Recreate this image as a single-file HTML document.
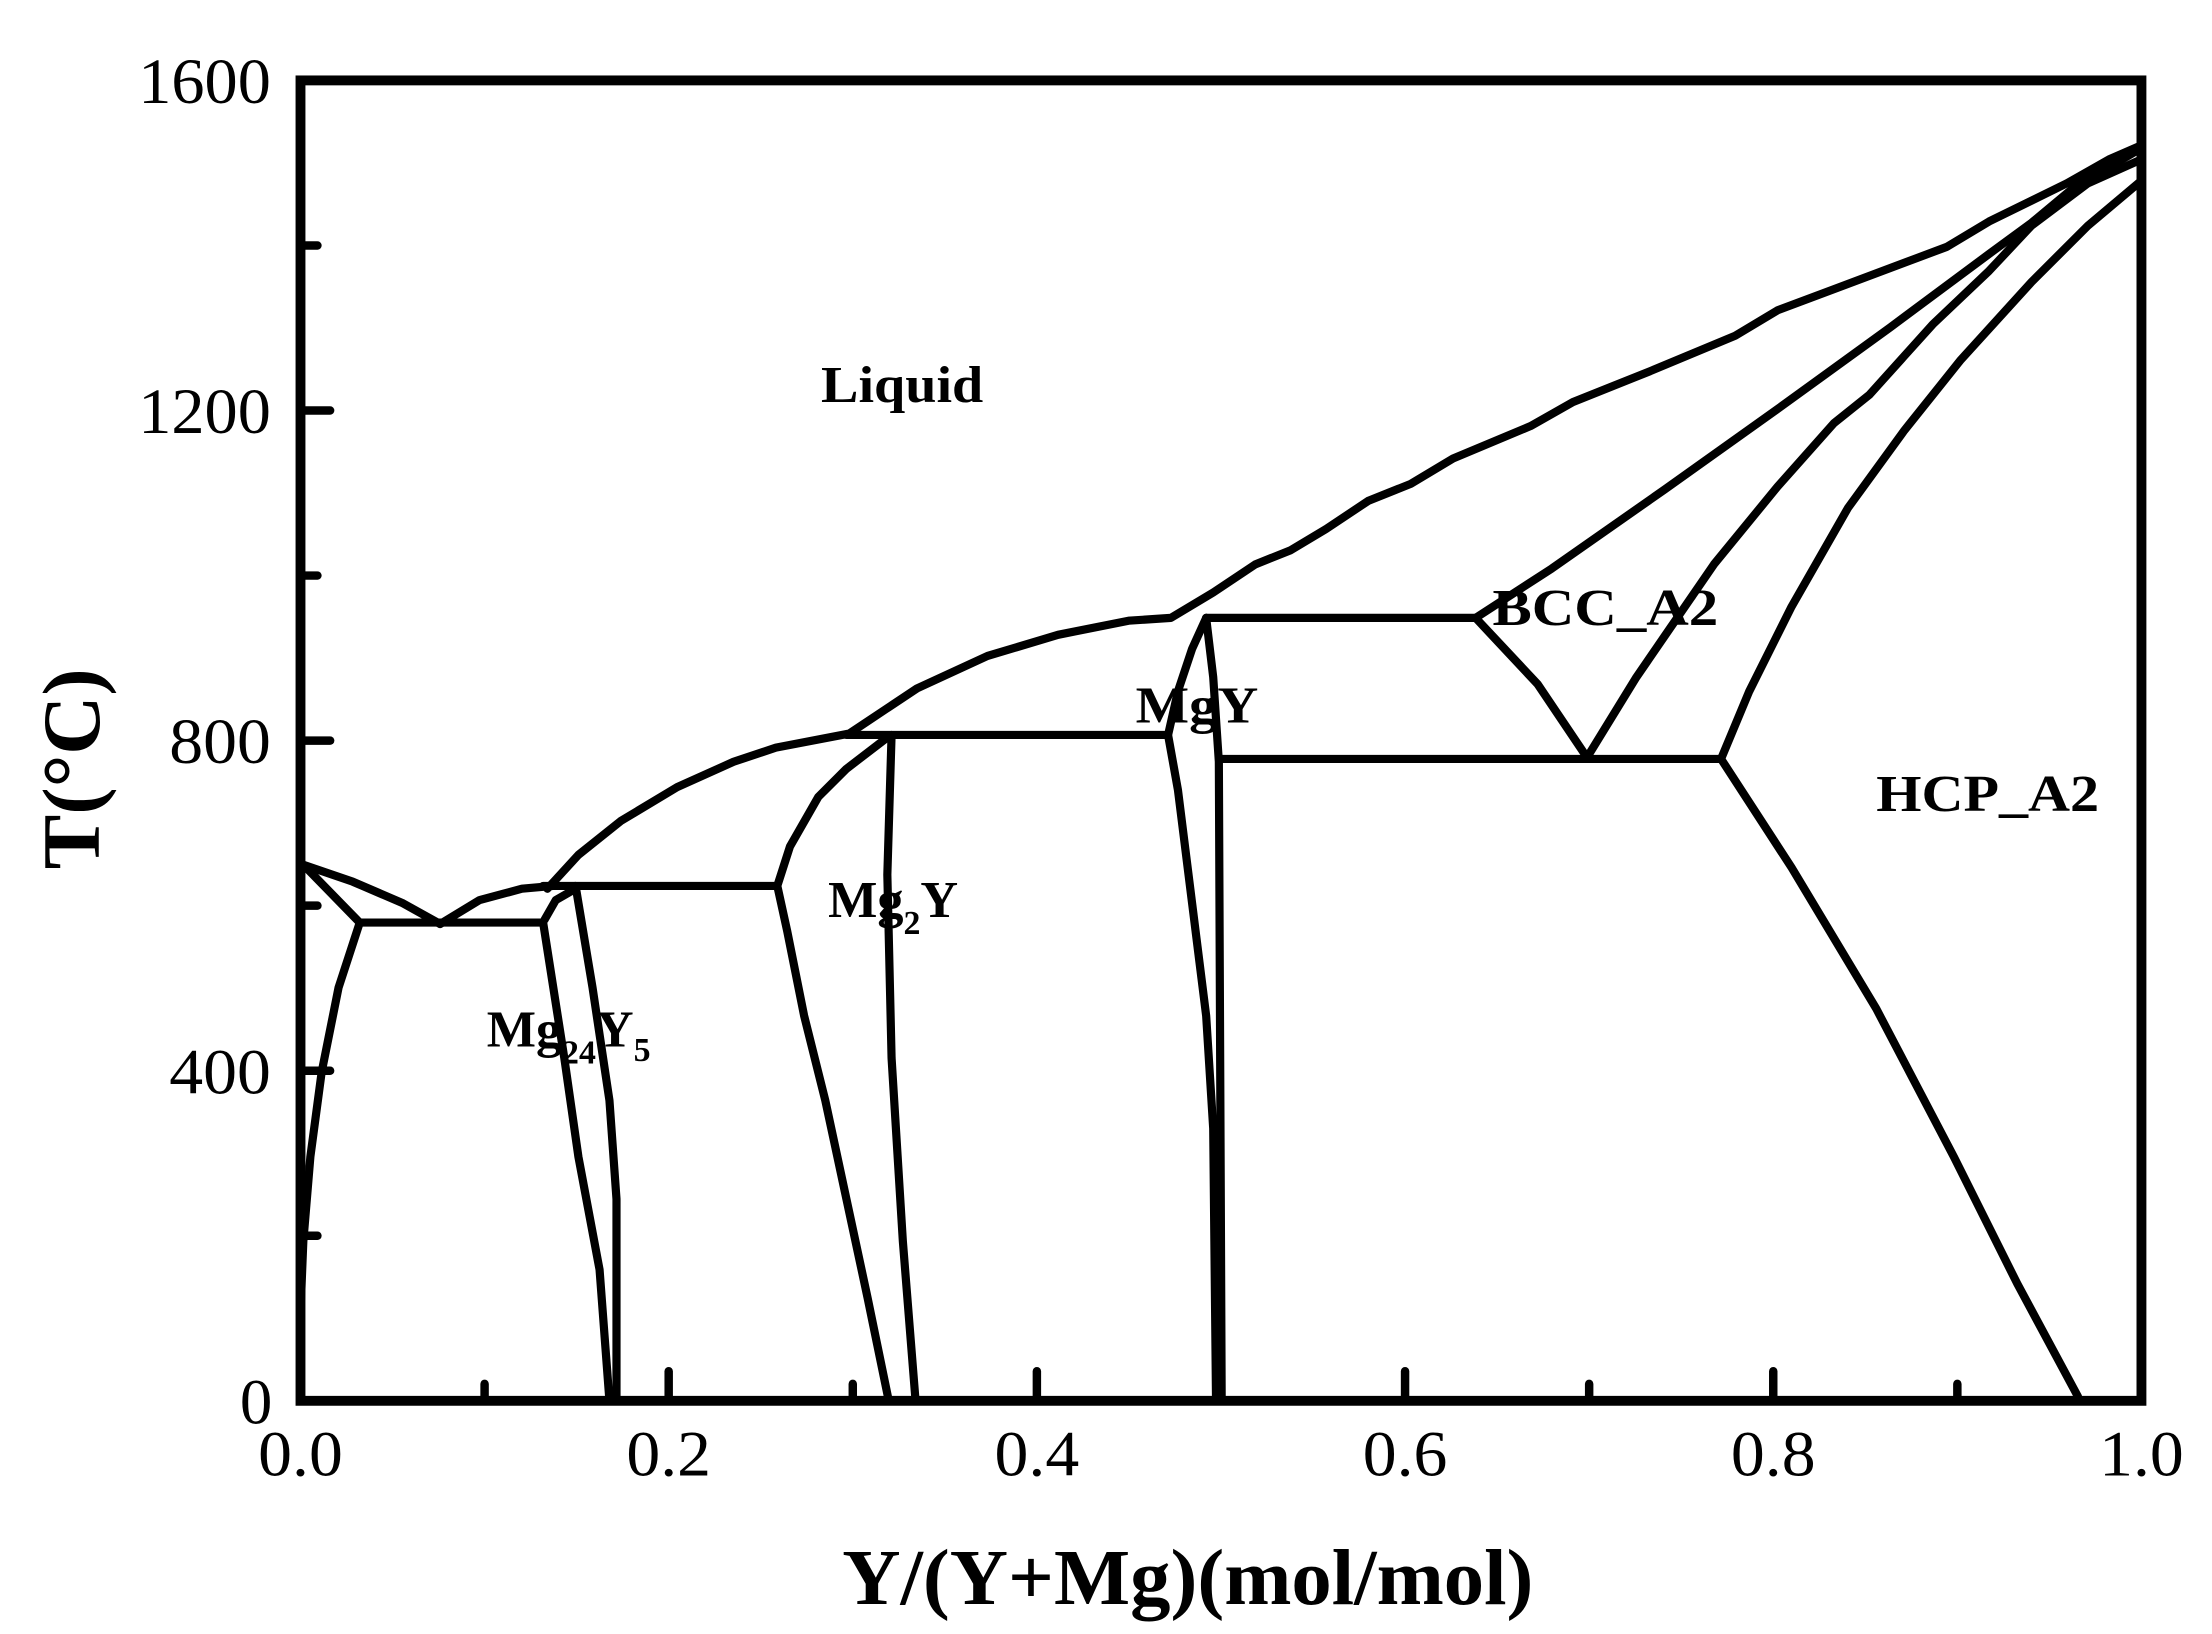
<!DOCTYPE html>
<html><head><meta charset="utf-8"><style>html,body{margin:0;padding:0;background:#fff}svg{display:block}</style></head>
<body>
<svg width="2212" height="1634" viewBox="0 0 1568 1158.3" xmlns="http://www.w3.org/2000/svg" font-family="'Liberation Serif',serif">
<rect width="1568" height="1158.3" fill="#fff"/>
<g fill="none" stroke="#000" stroke-width="5.8" stroke-linejoin="round" stroke-linecap="round">
<polyline points="215,613 250,625 285,640 312,655"/>
<polyline points="215,613 255,654 240,700 228,760 220,820 215,880 213,930"/>
<polyline points="255,654 385,654"/>
<polyline points="312,655 340,638 370,630 392,628"/>
<polyline points="385,628 550,628"/>
<polyline points="385,654 400,750 410,820 425,900 432,993"/>
<polyline points="408,628 420,700 432,780 437,850 437,993"/>
<polyline points="408,630 394,638 386,652"/>
<polyline points="388,630 410,606 440,582 480,558 520,540 550,530 602,520 650,488 700,465 750,450 800,440 830,438 860,420 890,400 915,390 940,375 970,355 1000,343 1030,325 1085,302 1115,285 1170,263 1230,238 1260,220 1300,205 1380,175 1410,157 1465,130 1495,113 1518,103"/>
<polyline points="600,521 828,521"/>
<polyline points="551,628 560,600 580,565 600,545 630,522"/>
<polyline points="551,628 558,660 570,720 585,780 600,850 615,920 630,993"/>
<polyline points="632,521 629,620 632,750 640,880 649,993"/>
<polyline points="855,438 845,460 835,490 828,521 835,560 845,640 855,720 860,800 862,993"/>
<polyline points="855,438 860,480 864,540 866,993"/>
<polyline points="855,438 1046,438"/>
<polyline points="866,538 1220,538"/>
<polyline points="1046,438 1090,485 1125,537"/>
<polyline points="1046,438 1100,403 1180,347 1260,290 1340,232 1410,180 1440,158 1470,133 1518,105"/>
<polyline points="1125,537 1160,480 1215,400 1260,345 1300,300 1325,280 1370,230 1410,192 1440,160 1480,130 1518,113"/>
<polyline points="1220,538 1240,490 1270,430 1310,360 1350,305 1390,255 1440,200 1480,160 1518,128"/>
<polyline points="1220,538 1270,615 1330,715 1385,820 1430,910 1473,990"/>
</g>
<rect x="213" y="57" width="1305" height="936" fill="none" stroke="#000" stroke-width="7"/>
<g stroke="#000" stroke-width="6" stroke-linecap="round">
<line x1="343.5" y1="993" x2="343.5" y2="981"/><line x1="474" y1="993" x2="474" y2="972"/>
<line x1="604.5" y1="993" x2="604.5" y2="981"/><line x1="735" y1="993" x2="735" y2="972"/>
<line x1="865.5" y1="993" x2="865.5" y2="981"/><line x1="996" y1="993" x2="996" y2="972"/>
<line x1="1126.5" y1="993" x2="1126.5" y2="981"/><line x1="1257" y1="993" x2="1257" y2="972"/>
<line x1="1387.5" y1="993" x2="1387.5" y2="981"/>
<line x1="213" y1="876" x2="225" y2="876"/><line x1="213" y1="759" x2="234" y2="759"/>
<line x1="213" y1="642" x2="225" y2="642"/><line x1="213" y1="525" x2="234" y2="525"/>
<line x1="213" y1="408" x2="225" y2="408"/><line x1="213" y1="291" x2="234" y2="291"/>
<line x1="213" y1="174" x2="225" y2="174"/>
</g>
<g font-size="46" fill="#000" lengthAdjust="spacingAndGlyphs">
<text x="193" y="1009" text-anchor="end">0</text>
<text x="120" y="775" textLength="72" lengthAdjust="spacingAndGlyphs">400</text>
<text x="120" y="541" textLength="72" lengthAdjust="spacingAndGlyphs">800</text>
<text x="98" y="307" textLength="94" lengthAdjust="spacingAndGlyphs">1200</text>
<text x="98" y="73" textLength="94" lengthAdjust="spacingAndGlyphs">1600</text>
<text x="183" y="1046" textLength="60" lengthAdjust="spacingAndGlyphs">0.0</text>
<text x="444" y="1046" textLength="60" lengthAdjust="spacingAndGlyphs">0.2</text>
<text x="705" y="1046" textLength="60" lengthAdjust="spacingAndGlyphs">0.4</text>
<text x="966" y="1046" textLength="60" lengthAdjust="spacingAndGlyphs">0.6</text>
<text x="1227" y="1046" textLength="60" lengthAdjust="spacingAndGlyphs">0.8</text>
<text x="1488" y="1046" textLength="60" lengthAdjust="spacingAndGlyphs">1.0</text>
</g>
<text x="597" y="1137" font-size="56" font-weight="bold" textLength="490" lengthAdjust="spacingAndGlyphs">Y/(Y+Mg)(mol/mol)</text>
<text transform="translate(70,545) rotate(-90)" font-size="58" font-weight="bold" text-anchor="middle">T(°C)</text>
<g font-size="37" font-weight="bold">
<text x="582" y="285" textLength="115" lengthAdjust="spacingAndGlyphs">Liquid</text>
<text x="1058" y="443" textLength="160" lengthAdjust="spacingAndGlyphs">BCC_A2</text>
<text x="805" y="512" textLength="87" lengthAdjust="spacingAndGlyphs">MgY</text>
<text x="1330" y="575" textLength="158" lengthAdjust="spacingAndGlyphs">HCP_A2</text>
<text x="587" y="650">Mg<tspan font-size="24" dy="12">2</tspan><tspan dy="-12">Y</tspan></text>
<text x="345" y="742">Mg<tspan font-size="24" dy="12">24</tspan><tspan dy="-12">Y</tspan><tspan font-size="24" dy="10">5</tspan></text>
</g>
</svg>
</body></html>
